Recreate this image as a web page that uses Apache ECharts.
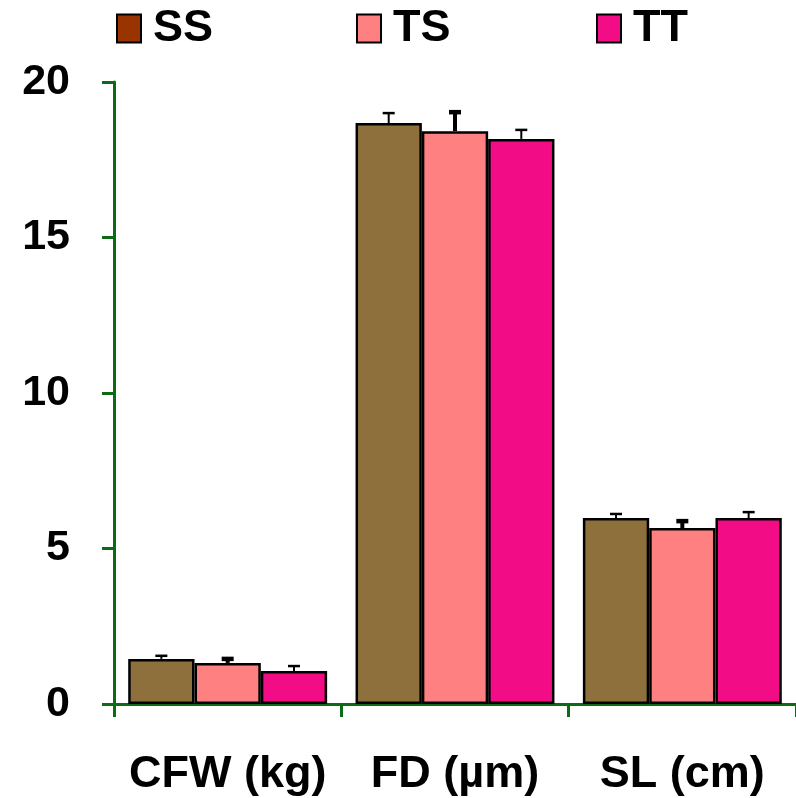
<!DOCTYPE html>
<html>
<head>
<meta charset="utf-8">
<script src="https://cdn.jsdelivr.net/npm/echarts@6/dist/echarts.min.js"></script>
<style>html,body{margin:0;padding:0;background:#fff}#c{width:796px;height:798px}</style>
</head>
<body>
<div id="c"></div>
<script>
const categories = ['CFW (kg)', 'FD (µm)', 'SL (cm)'];
const seriesNames = ['SS', 'TS', 'TT'];
const ssValues = [1.45, 18.68, 5.98];
const tsValues = [1.32, 18.42, 5.66];
const ttValues = [1.06, 18.17, 5.98];
const ssErrors = [0.10, 0.32, 0.13];
const tsErrors = [0.13, 0.61, 0.22];
const ttErrors = [0.16, 0.29, 0.19];
const yTicks = [0, 5, 10, 15, 20];

const barColors = ['#8E703C', '#FF8080', '#F20C85'];
const legendColors = ['#993300', '#FF8080', '#F20C85'];
const errWidths = [2, 4, 2];
const values = [ssValues, tsValues, ttValues];
const errors = [ssErrors, tsErrors, ttErrors];
const axisGreen = '#0B6B16';
const FONT = '"Liberation Sans", Arial, sans-serif';
const catGap = 0.125;

const chart = echarts.init(document.getElementById('c'));

const barSeries = seriesNames.map((n, i) => ({
  name: n,
  type: 'bar',
  data: values[i],
  barGap: '0%',
  barCategoryGap: (catGap * 100) + '%',
  itemStyle: { color: barColors[i], borderColor: '#000', borderWidth: 2.5 },
  z: 2
}));

const errSeries = seriesNames.map((n, i) => ({
  name: n + ' error',
  type: 'custom',
  z: 5,
  encode: { x: 0, y: 1 },
  data: values[i].map((v, k) => [k, v, errors[i][k]]),
  renderItem: function (params, api) {
    const c = api.value(0), v = api.value(1), e = api.value(2);
    const base = api.coord([c, v]);
    const top = api.coord([c, v + e]);
    const bw = api.size([1, 0])[0] * (1 - catGap) / 3;
    const x = base[0] + (i - 1) * bw;
    const st = { stroke: '#000', lineWidth: errWidths[i] };
    return {
      type: 'group',
      children: [
        { type: 'line', shape: { x1: x, y1: base[1], x2: x, y2: top[1] }, style: st },
        { type: 'line', shape: { x1: x - 6, y1: top[1], x2: x + 6, y2: top[1] }, style: { stroke: '#000', lineWidth: errWidths[i] + 0.5 } }
      ]
    };
  }
}));

const legendLefts = [116, 356, 596];
const legends = seriesNames.map((n, i) => ({
  left: legendLefts[i],
  top: 6,
  padding: 0,
  itemWidth: 24,
  itemHeight: 28,
  selectedMode: false,
  icon: 'rect',
  data: [{ name: n, itemStyle: { color: legendColors[i], borderColor: '#000', borderWidth: 2 } }],
  textStyle: { fontFamily: FONT, fontWeight: 'bold', fontSize: 45, color: '#000', padding: [0, 0, 0, 7] }
}));

chart.setOption({
  animation: false,
  backgroundColor: '#fff',
  legend: legends,
  grid: { left: 114, top: 82, bottom: 94, width: 684, containLabel: false },
  xAxis: {
    type: 'category',
    data: categories,
    axisLine: { lineStyle: { color: axisGreen, width: 3 } },
    axisTick: { show: true, interval: 0, length: 13, lineStyle: { color: axisGreen, width: 3 } },
    axisLabel: { interval: 0, fontFamily: FONT, fontWeight: 'bold', fontSize: 45, color: '#000', margin: 48 }
  },
  yAxis: {
    type: 'value',
    min: yTicks[0],
    max: yTicks[yTicks.length - 1],
    interval: 5,
    splitLine: { show: false },
    axisLine: { show: true, lineStyle: { color: axisGreen, width: 3 } },
    axisTick: { show: true, length: 12, lineStyle: { color: axisGreen, width: 3 } },
    axisLabel: { fontFamily: FONT, fontWeight: 'bold', fontSize: 43, color: '#000', margin: 44 }
  },
  series: barSeries.concat(errSeries)
});
</script>
</body>
</html>
